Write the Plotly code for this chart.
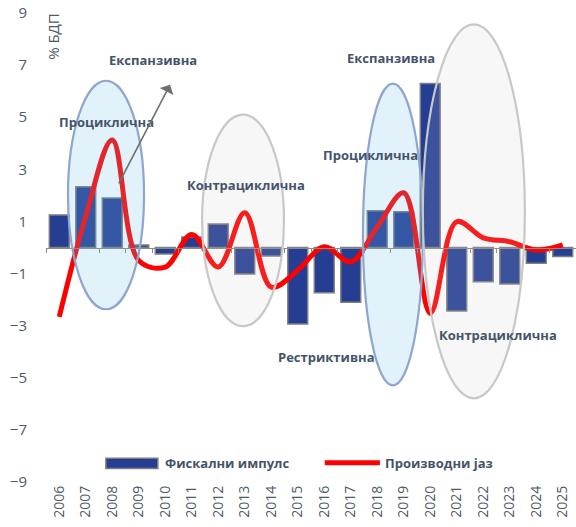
import plotly.graph_objects as go

# ---------------- data ----------------
years = list(range(2006, 2026))
fiscal_impulse = [1.25, 2.33, 1.9, 0.1, -0.25, 0.4, 0.9, -1.02, -0.33, -2.94,
                  -1.74, -2.1, 1.41, 1.37, 6.29, -2.44, -1.31, -1.4, -0.6, -0.35]
output_gap = [-2.66, 1.2, 4.13, -0.5, -0.75, 0.5, -0.75, 1.33, -1.52, -0.87,
              0.03, -0.55, 0.79, 2.1, -2.52, 0.99, 0.37, 0.22, -0.1, 0.1]
y_tick_values = [-9, -7, -5, -3, -1, 1, 3, 5, 7, 9]
series_names = ["Фискални импулс", "Производни јаз"]
y_title = "% БДП"
phase_labels = ["Експанзивна", "Проциклична", "Контрациклична",
                "Експанзивна", "Проциклична", "Рестриктивна", "Контрациклична"]

# ---------------- style ----------------
TXT = "#44546a"
TICK = "#505a66"
BAR = "#253e94"
RED = "#ff0000"
FONT = "Open Sans"

fig = go.Figure()

fig.add_trace(go.Bar(
    x=years, y=fiscal_impulse, name=series_names[0], width=0.75,
    marker=dict(color=BAR, line=dict(color="#7f7f7f", width=1.5)),
    showlegend=False,
))
fig.add_trace(go.Scatter(
    x=years, y=output_gap, name=series_names[1], mode="lines",
    line=dict(color=RED, width=5, shape="spline", smoothing=1.0),
    showlegend=False,
))
# helper trace so the zero-line axis (x2) is drawn
fig.add_trace(go.Scatter(
    x=years, y=[None] * len(years), xaxis="x2", yaxis="y",
    mode="lines", showlegend=False, hoverinfo="skip",
))

# ellipses (drawn above, semi-transparent like the original)
blue_fill = "rgba(110,190,230,0.2)"
blue_line = "#8ea6cf"
gray_fill = "rgba(200,200,200,0.15)"
gray_line = "#c8c8c8"
ellipses = [
    (2006.33, 2009.2, -2.37, 6.4, blue_fill, blue_line),
    (2011.39, 2014.48, -3.02, 5.1, gray_fill, gray_line),
    (2017.46, 2019.72, -5.29, 6.29, blue_fill, blue_line),
    (2019.72, 2023.57, -5.79, 8.56, gray_fill, gray_line),
]
shapes = []
for x0, x1, y0, y1, fc, lc in ellipses:
    shapes.append(dict(type="circle", xref="x", yref="y", x0=x0, x1=x1, y0=y0, y1=y1,
                       fillcolor=fc, line=dict(color=lc, width=2.2), layer="above"))

# custom legend (paper coords)
shapes.append(dict(type="rect", xref="paper", yref="paper", x0=0.113, x1=0.211,
                   y0=0.029, y1=0.0506, fillcolor=BAR,
                   line=dict(color="#7f7f7f", width=1.5)))
shapes.append(dict(type="line", xref="paper", yref="paper", x0=0.526, x1=0.630,
                   y0=0.041, y1=0.041, line=dict(color=RED, width=5)))

annotations = []
label_pos = [
    (2009.54, 7.2), (2007.8, 4.83), (2013.06, 2.4),
    (2018.52, 7.29), (2017.73, 3.56), (2016.1, -4.21), (2022.54, -3.37),
]
for txt, (lx, ly) in zip(phase_labels, label_pos):
    annotations.append(dict(x=lx, y=ly, xref="x", yref="y", text=f"<b>{txt}</b>",
                            xanchor="center", yanchor="middle",
                            showarrow=False, font=dict(family=FONT, size=13, color=TXT)))

# arrow
annotations.append(dict(x=2010.18, y=6.25, ax=2008.22, ay=2.4, xref="x", yref="y",
                        axref="x", ayref="y", text="", showarrow=True,
                        arrowhead=1, arrowsize=1.6, arrowwidth=1.6, arrowcolor="#6f6f6f"))

# y title
annotations.append(dict(x=0.013, y=0.951, xref="paper", yref="paper", text=y_title,
                        xanchor="center", yanchor="middle",
                        textangle=-90, showarrow=False,
                        font=dict(family=FONT, size=15, color=TICK)))

# legend texts
annotations.append(dict(x=0.221, y=0.041, xref="paper", yref="paper", xanchor="left",
                        yanchor="middle",
                        text=f"<b>{series_names[0]}</b>", showarrow=False,
                        font=dict(family=FONT, size=13, color=TXT)))
annotations.append(dict(x=0.636, y=0.041, xref="paper", yref="paper", xanchor="left",
                        yanchor="middle",
                        text=f"<b>{series_names[1]}</b>", showarrow=False,
                        font=dict(family=FONT, size=13, color=TXT)))

fig.update_layout(
    width=576, height=527,
    margin=dict(l=46, r=0, t=13, b=45),
    paper_bgcolor="white", plot_bgcolor="white",
    bargap=0.25,
    shapes=shapes,
    annotations=annotations,
    xaxis=dict(
        range=[2005.5, 2025.5], tickvals=years, ticktext=[str(y) for y in years],
        tickangle=-90, showgrid=False, zeroline=False, showline=False, ticks="",
        tickfont=dict(family=FONT, size=14, color=TICK),
    ),
    xaxis2=dict(
        range=[2005.5, 2025.5], overlaying="x", anchor="free", position=0.5,
        tickvals=[y - 0.5 for y in years] + [2025.5], showticklabels=False,
        ticks="outside", ticklen=4, tickcolor="#898989", tickwidth=1,
        showline=True, linecolor="#898989", linewidth=1, showgrid=False, zeroline=False,
    ),
    yaxis=dict(
        range=[-9, 9], tickvals=y_tick_values, showgrid=False, zeroline=False,
        showline=False, ticks="", ticklabelstandoff=18,
        tickfont=dict(family=FONT, size=15, color=TICK),
    ),
)

fig.write_html("out.html", config={"displayModeBar": False},
               post_script="document.body.style.margin='0';document.body.style.overflow='hidden';")
